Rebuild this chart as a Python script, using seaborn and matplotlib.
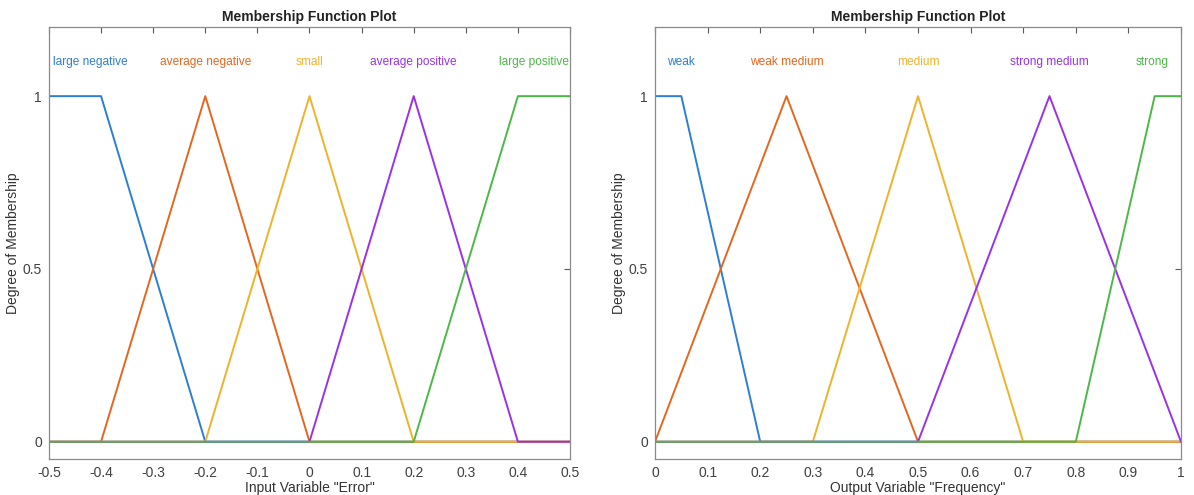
import pandas as pd
import matplotlib
matplotlib.use("Agg")
import matplotlib.pyplot as plt
import seaborn as sns

# membership function breakpoints (x, y)
error_names = ['large negative', 'average negative', 'small', 'average positive', 'large positive']
error_x = [
    [-0.5, -0.4, -0.2, 0.5],
    [-0.5, -0.4, -0.2, 0.0, 0.5],
    [-0.5, -0.2, 0.0, 0.2, 0.5],
    [-0.5, 0.0, 0.2, 0.4, 0.5],
    [-0.5, 0.2, 0.4, 0.5],
]
error_y = [
    [1, 1, 0, 0],
    [0, 0, 1, 0, 0],
    [0, 0, 1, 0, 0],
    [0, 0, 1, 0, 0],
    [0, 0, 1, 1],
]
error_label_x = [-0.42, -0.2, 0.0, 0.2, 0.43]

freq_names = ['weak', 'weak medium', 'medium', 'strong medium', 'strong']
freq_x = [
    [0.0, 0.05, 0.2, 1.0],
    [0.0, 0.25, 0.5, 1.0],
    [0.0, 0.3, 0.5, 0.7, 1.0],
    [0.0, 0.5, 0.75, 1.0],
    [0.0, 0.8, 0.95, 1.0],
]
freq_y = [
    [1, 1, 0, 0],
    [0, 1, 0, 0],
    [0, 0, 1, 0, 0],
    [0, 0, 1, 0],
    [0, 0, 1, 1],
]
freq_label_x = [0.05, 0.25, 0.5, 0.75, 0.945]

colors = ['#2C7FD2', '#E5661F', '#EFB22B', '#9A31E6', '#4CB847']


def to_frame(names, xs, ys):
    rows = []
    for name, x, y in zip(names, xs, ys):
        for xi, yi in zip(x, y):
            rows.append({'mf': name, 'x': xi, 'y': yi})
    return pd.DataFrame(rows)


def draw_panel(ax, df, names, label_x, xlim, xticks, xticklabels, xlabel):
    for name, c in zip(names, colors):
        sns.lineplot(data=df[df['mf'] == name], x='x', y='y', color=c, lw=1.4,
                     sort=False, estimator=None, ax=ax)
    for name, lx, c in zip(names, label_x, colors):
        ax.text(lx, 1.1, name, color=c, ha='center', va='center', fontsize=8.6)
    ax.set_xlim(*xlim)
    ax.set_ylim(-0.05, 1.2)
    ax.set_xticks(xticks)
    ax.set_xticklabels(xticklabels)
    ax.set_yticks([0, 0.5, 1])
    ax.set_yticklabels(['0', '0.5', '1'])
    ax.tick_params(direction='in', top=True, right=True, length=4.5, width=0.8,
                   colors='#5a5a5a', labelcolor='#404040', labelsize=10, pad=5)
    for s in ax.spines.values():
        s.set_visible(True)
        s.set_color('#8a8a8a')
        s.set_linewidth(0.9)
    ax.set_xlabel(xlabel, fontsize=10, color='#333333', labelpad=1)
    ax.set_ylabel('Degree of Membership', fontsize=10, color='#333333')
    ax.yaxis.label.set_va('center')
    ax.yaxis.set_label_coords(-0.069, 0.5)
    ax.set_title('Membership Function Plot', fontsize=10, fontweight='bold', color='#222222', pad=4)


sns.set_theme(style='white')
plt.rcParams['font.family'] = ['Liberation Sans', 'DejaVu Sans']

fig = plt.figure(figsize=(11.94, 4.95), dpi=100)
ax1 = fig.add_axes([0.041, 0.0727, 0.4364, 0.8727])
ax2 = fig.add_axes([0.5486, 0.0727, 0.4405, 0.8727])

err_df = to_frame(error_names, error_x, error_y)
freq_df = to_frame(freq_names, freq_x, freq_y)

draw_panel(ax1, err_df, error_names, error_label_x, (-0.5, 0.5),
           [-0.5, -0.4, -0.3, -0.2, -0.1, 0, 0.1, 0.2, 0.3, 0.4, 0.5],
           ['-0.5', '-0.4', '-0.3', '-0.2', '-0.1', '0', '0.1', '0.2', '0.3', '0.4', '0.5'],
           'Input Variable "Error"')
draw_panel(ax2, freq_df, freq_names, freq_label_x, (0, 1),
           [0, 0.1, 0.2, 0.3, 0.4, 0.5, 0.6, 0.7, 0.8, 0.9, 1],
           ['0', '0.1', '0.2', '0.3', '0.4', '0.5', '0.6', '0.7', '0.8', '0.9', '1'],
           'Output Variable "Frequency"')

fig.savefig('out.png', dpi=100)
